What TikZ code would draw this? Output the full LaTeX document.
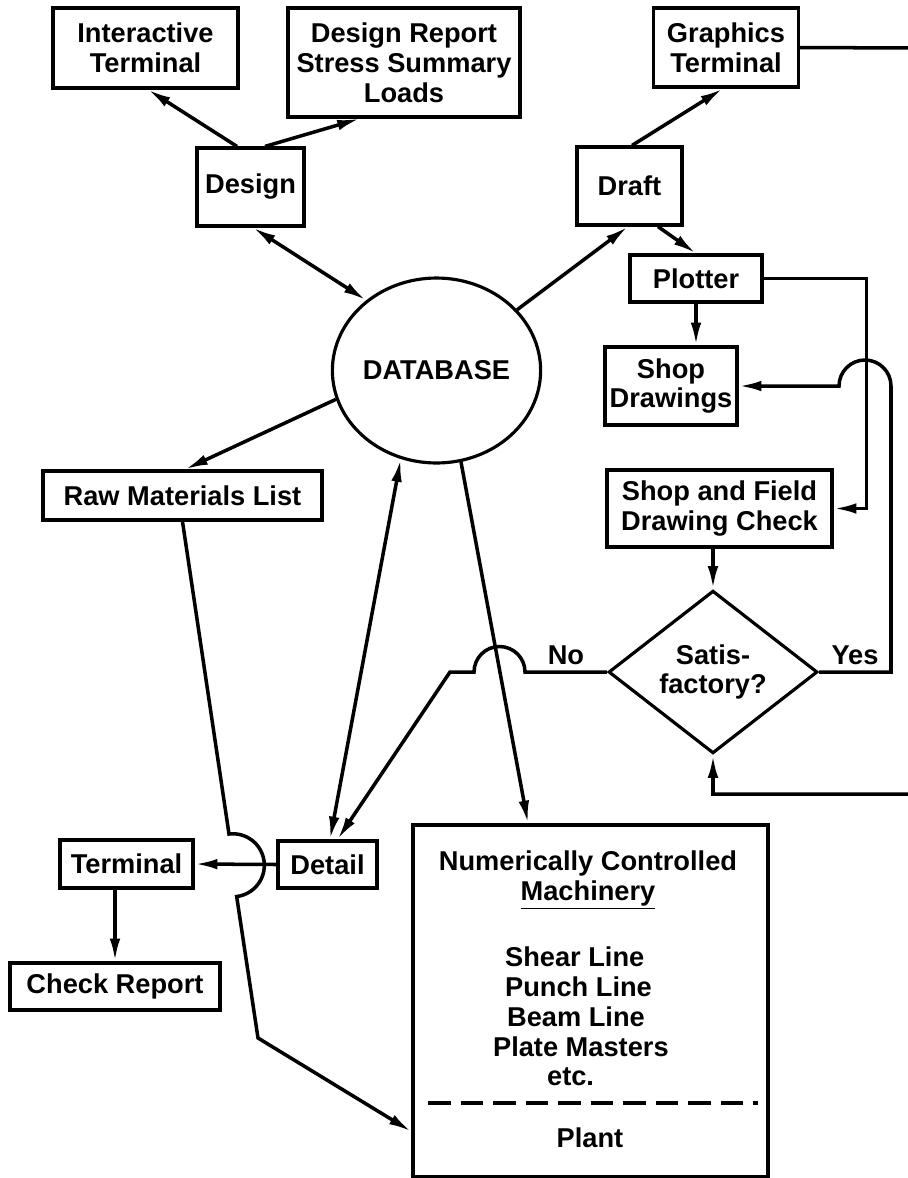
\documentclass[tikz,border=0pt]{standalone}
\usepackage{fontspec}
\setmainfont{Liberation Sans}
\usepackage{tikz}
\usetikzlibrary{shapes.geometric,positioning,arrows.meta}
\usepackage{xcolor}
\tikzstyle{block} = [rectangle, draw, line width=1.8pt, inner sep=0pt, align=center]
\tikzstyle{store} = [ellipse, draw, line width=1.8pt, inner sep=0pt, minimum width=3.14cm, minimum height=3.7cm]
\tikzstyle{decision} = [diamond, draw, line width=1.8pt, inner sep=0pt, align=center, minimum width=4.18cm, minimum height=3cm]
\tikzstyle{line} = [draw, line width=2pt, -{Latex[length=13pt,width=6pt]}]
\tikzstyle{dline} = [line, {Latex[length=13pt,width=6pt]}-{Latex[length=13pt,width=6pt]}]
\tikzstyle{plain} = [inner sep=1pt, align=left]
\begin{document}
\begin{tikzpicture}[x=0.02cm, y=0.02cm, font=\bfseries\fontsize{15.5}{17}\selectfont]
  	\useasboundingbox (0,0) rectangle (908,-1178);
  	%% database
  	\node[store] (db) at (436.5,-370.5) {DATABASE};
  	%% design side
  	\node[block, minimum width=2.14cm, minimum height=1.56cm] (design) at (250.5,-187) {Design};
  	\node[block, minimum width=3.7cm, minimum height=1.6cm] (iterm) at (145.5,-48) {Interactive\\Terminal};
  	\node[block, minimum width=4.64cm, minimum height=2.18cm] (report) at (404,-62.5) {Design Report\\Stress Summary\\Loads};
  	%% draft side
  	\node[block, minimum width=2.1cm, minimum height=1.56cm] (draft) at (629.5,-186) {Draft};
  	\node[block, minimum width=2.9cm, minimum height=1.58cm] (gterm) at (726,-47.5) {Graphics\\Terminal};
  	\node[block, minimum width=2.64cm, minimum height=0.94cm] (plotter) at (696,-278.5) {Plotter};
  	\node[block, minimum width=2.64cm, minimum height=1.56cm] (shopdr) at (671,-386) {Shop\\Drawings};
  	\node[block, minimum width=4.5cm, minimum height=1.54cm] (sfcheck) at (719.5,-508.5) {Shop and Field\\Drawing Check};
  	%% check
  	\node[decision] (sat) at (713,-672) {Satis-\\factory?};
  	%% left side
  	\node[block, minimum width=5.58cm, minimum height=0.98cm] (raw) at (182.5,-495.5) {Raw Materials List};
  	\node[block, minimum width=1.98cm, minimum height=0.94cm] (detail) at (327.5,-864.5) {Detail};
  	\node[block, minimum width=2.66cm, minimum height=0.96cm] (term) at (126.5,-864) {Terminal};
  	\node[block, minimum width=4.2cm, minimum height=0.94cm] (check) at (115,-986.5) {Check Report};
  	%% machinery
  	\node[block, minimum width=7.1cm, minimum height=7.04cm] (nc) at (590.5,-1001) {};
  	\node[plain, align=center] (nctitle) at (588,-880) {Numerically Controlled\\\underline{Machinery}};
  	\node[plain, anchor=west] (shear) at (503,-957) {Shear Line};
  	\node[plain, anchor=west] (punch) at (503,-987) {Punch Line};
  	\node[plain, anchor=west] (beam) at (505,-1017) {Beam Line};
  	\node[plain, anchor=west] (plate) at (491,-1047) {Plate Masters};
  	\node[plain, anchor=west] (etc) at (545,-1077) {etc.};
  	\node[plain] (plant) at (590,-1138) {Plant};
  	\coordinate (dl) at (428,-1103);
  	\coordinate (dr) at (758,-1103);
  	\draw[line width=2pt, dash pattern=on 13pt off 5.5pt] (dl) -- (dr);
  	%% loop points
  	\coordinate (gtr) at (914,-48);
  	\coordinate (gbr) at (914,-794);
  	\coordinate (yhop) at (891,-386);
  	\coordinate (nohop) at (525,-672);
  	\coordinate (noknee) at (450,-672);
  	\coordinate (rawhop) at (229,-834);
  	\coordinate (rawknee) at (258,-1038);
  	%% edges
  	\path[dline] (db.135) -- ([xshift=0.05cm]design.south);
  	\path[line] ([xshift=-0.27cm]design.north) -- ([xshift=0.05cm]iterm.south);
  	\path[line] ([xshift=0.29cm]design.north) -- ([xshift=-0.88cm]report.south);
  	\path[line] (db.37) -- ([xshift=-0.03cm]draft.south);
  	\path[line] ([xshift=0.05cm]draft.north) -- ([xshift=-0.06cm]gterm.south);
  	\path[line] ([xshift=0.57cm]draft.south) -- (plotter.north);
  	\path[line] (plotter.south) -- (plotter.south |- shopdr.north);
  	\path[line] (plotter.east) -| ([xshift=0.66cm]sfcheck.east) -- (sfcheck.east);
  	\path[line] (sat.north |- sfcheck.south) -- (sat.north);
  	\path[line] (sat.east) -- node[above]{Yes} (sat.east -| yhop) -- (yhop) arc[start angle=0, end angle=180, radius=0.52cm] -- (shopdr.east);
  	\path[line] (gterm.east) -- (gtr) -- (gbr) -| (sat.south);
  	\path[line] (sat.west) -- node[above]{No} (nohop) arc[start angle=0, end angle=180, radius=0.51cm] -- (noknee) -- ([xshift=0.2cm]detail.north);
  	\path[line] (db.196) -- ([xshift=0.05cm]raw.north);
  	\path[dline] (db.248) -- ([xshift=0.05cm]detail.north);
  	\path[line] (db.285) -- ([xshift=-1.25cm]nc.north);
  	\path[line] (raw.south) -- (rawhop) arc[start angle=97, end angle=-83, radius=0.63cm] -- (rawknee) -- ([yshift=0.94cm]nc.south west);
  	\path[line] (detail.west) -- (term.east);
  	\path[line] (check.north |- term.south) -- (check.north);
  	\end{tikzpicture}
\end{document}
